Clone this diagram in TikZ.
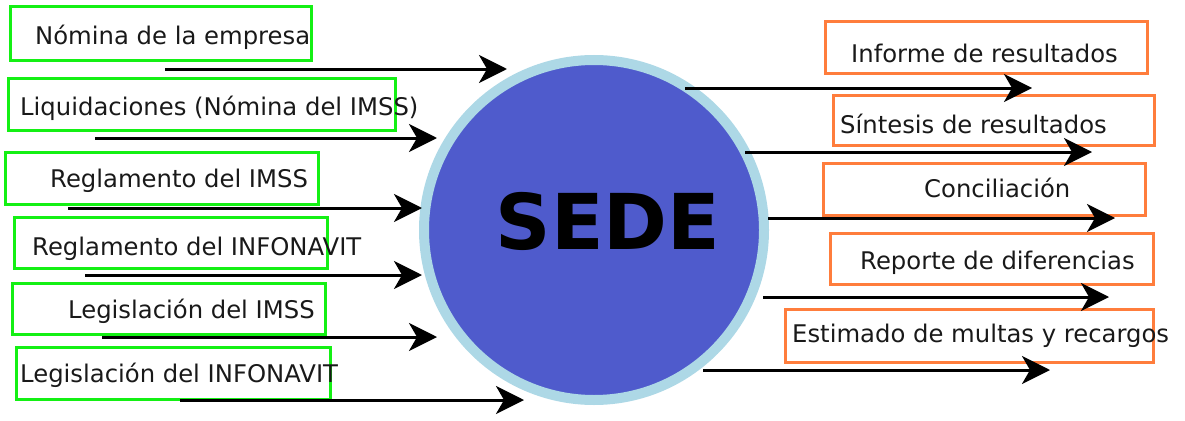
\documentclass[tikz,border=0pt]{standalone}
\usepackage{fontspec}
\setmainfont{DejaVu Sans}
\usetikzlibrary{arrows.meta}

\definecolor{inGreen}{RGB}{20,240,20}
\definecolor{outOrange}{RGB}{255,125,60}
\definecolor{sedeBlue}{RGB}{79,91,204}
\definecolor{sedeRing}{RGB}{173,216,230}

\tikzset{
    inbox/.style={draw=inGreen, line width=3pt, rectangle, inner sep=0pt},
    outbox/.style={draw=outOrange, line width=3pt, rectangle, inner sep=0pt},
    lbl/.style={anchor=base west, inner sep=0pt, text=black!90, font=\fontsize{24.3}{28}\selectfont},
    flow/.style={line width=3pt, -{Stealth[length=28pt,width=28pt,inset=8pt]}}
}

\begin{document}
\begin{tikzpicture}[x=1pt, y=-1pt]
    \useasboundingbox (0,0) rectangle (1185,420);

    % central process
    \node[circle, fill=sedeBlue, draw=sedeRing, line width=10pt, minimum size=340pt, inner sep=0pt] (sede) at (594,230) {};
    \node[inner sep=0pt, font=\fontsize{77}{80}\selectfont\bfseries] (sedeText) at (608,221) {SEDE};

    % inputs: name / left / top / right / bottom
    \foreach \n/\xa/\ya/\xb/\yb in {in1/10/7/311/61, in2/8/78/395/130, in3/5/152/318/204,
                                     in4/14/217/327/268, in5/12/283/325/334, in6/16/347/330/399}
        \draw[inbox] (\xa,\ya) rectangle (\xb,\yb) node[pos=0.5, inner sep=0pt] (\n) {};

    \node[lbl] (in1txt) at (35,45)  {Nómina de la empresa};
    \node[lbl] (in2txt) at (20,115) {Liquidaciones (Nómina del IMSS)};
    \node[lbl] (in3txt) at (50,187) {Reglamento del IMSS};
    \node[lbl] (in4txt) at (32,255) {Reglamento del INFONAVIT};
    \node[lbl] (in5txt) at (68,318) {Legislación del IMSS};
    \node[lbl] (in6txt) at (20,382) {Legislación del INFONAVIT};

    % outputs
    \foreach \n/\xa/\ya/\xb/\yb in {out1/825/22/1147/73, out2/833/95/1154/145, out3/823/163/1145/215,
                                     out4/830/233/1153/284, out5/785/309/1153/362}
        \draw[outbox] (\xa,\ya) rectangle (\xb,\yb) node[pos=0.5, inner sep=0pt] (\n) {};

    \node[lbl] (out1txt) at (851,63)  {Informe de resultados};
    \node[lbl] (out2txt) at (840,133) {Síntesis de resultados};
    \node[lbl] (out3txt) at (924,197) {Conciliación};
    \node[lbl] (out4txt) at (860,269) {Reporte de diferencias};
    \node[lbl] (out5txt) at (792,342) {Estimado de multas y recargos};

    % arrows in
    \foreach \n/\xa/\xb/\y in {in1/165/507/69, in2/95/437/138, in3/68/422/208,
                               in4/85/422/275, in5/102/437/337, in6/180/524/400} {
        \coordinate (\n a) at (\xa,\y);
        \coordinate (\n b) at (\xb,\y);
        \draw[flow] (\n a) -- (\n b);
    }

    % arrows out
    \foreach \n/\xa/\xb/\y in {out1/685/1032/88, out2/745/1092/152, out3/768/1115/218,
                               out4/763/1109/297, out5/703/1050/370} {
        \coordinate (\n a) at (\xa,\y);
        \coordinate (\n b) at (\xb,\y);
        \draw[flow] (\n a) -- (\n b);
    }
\end{tikzpicture}
\end{document}
